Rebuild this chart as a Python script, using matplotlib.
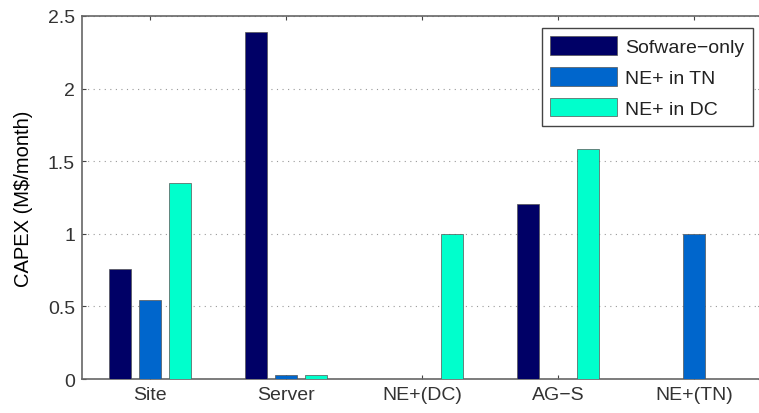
import numpy as np
import matplotlib.pyplot as plt

plt.rcParams['font.family'] = ['Liberation Sans', 'DejaVu Sans']

categories = ['Site', 'Server', 'NE+(DC)', 'AG\u2212S', 'NE+(TN)']
series_names = ['Sofware\u2212only', 'NE+ in TN', 'NE+ in DC']
software_only = [0.76, 2.39, 0.0, 1.205, 0.0]
ne_in_tn = [0.545, 0.03, 0.0, 0.0, 1.0]
ne_in_dc = [1.35, 0.03, 1.0, 1.585, 0.0]
colors = ['#000066', '#0066cc', '#00ffcc']

fig = plt.figure(figsize=(7.59, 4.14), dpi=100)
ax = fig.add_axes([0.108, 0.082, 0.896, 0.877])

x = np.arange(1, len(categories) + 1)
width = 0.165
offset = 0.22
for i, (vals, name) in enumerate(zip([software_only, ne_in_tn, ne_in_dc], series_names)):
    ax.bar(x + (i - 1) * offset, vals, width, color=colors[i], label=name,
           edgecolor='#555555', linewidth=0.5, zorder=3)

ax.set_xlim(0.5, 5.5)
ax.set_ylim(0, 2.5)
ax.set_xticks(x)
ax.set_xticklabels(categories, fontsize=14)
ax.set_yticks([0, 0.5, 1, 1.5, 2, 2.5])
ax.set_yticklabels(['0', '0.5', '1', '1.5', '2', '2.5'], fontsize=14)
ax.set_ylabel('CAPEX (M\\$/month)', fontsize=14.5, labelpad=11)

ax.tick_params(direction='in', top=True, right=True, length=3, pad=5,
               color='#444444', labelcolor='#333333')
ax.grid(axis='y', linestyle=(0, (1, 4)), color='#999999', linewidth=0.8, zorder=0)
for s in ax.spines.values():
    s.set_color('#666666')
    s.set_linewidth(1.2)

leg = ax.legend(loc='upper right', bbox_to_anchor=(0.987, 0.968), fontsize=14,
                handlelength=3.4, handleheight=1.1, labelspacing=0.55,
                handletextpad=0.45, borderpad=0.45, borderaxespad=0,
                fancybox=False, framealpha=1)
leg.get_frame().set_edgecolor('#444444')
leg.get_frame().set_linewidth(1.0)
for t in leg.get_texts():
    t.set_color('#222222')

fig.savefig('out.png', dpi=100)
